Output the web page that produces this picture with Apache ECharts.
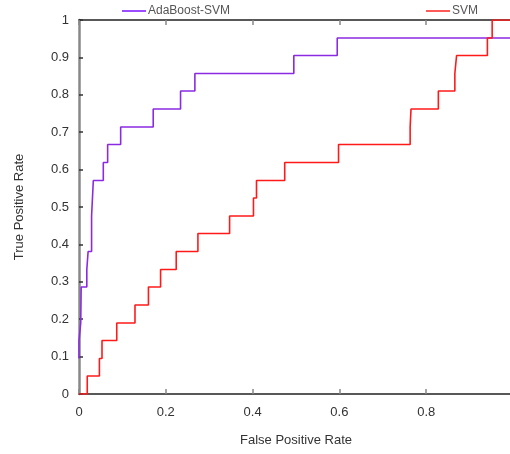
<!DOCTYPE html>
<html>
<head>
<meta charset="utf-8">
<script src="https://cdn.jsdelivr.net/npm/echarts@6/dist/echarts.min.js"></script>
<style>
  html, body { margin: 0; padding: 0; background: #fff; }
  #chart { width: 510px; height: 454px; }
</style>
</head>
<body>
<div id="chart"></div>
<script>
// ROC curve points: false positive rate / true positive rate
var adaFpr = [0, 0, 0.004, 0.005, 0.018, 0.021, 0.029, 0.033, 0.056, 0.066, 0.096, 0.171, 0.234, 0.267, 0.495, 0.595, 1];
var adaTpr = [0.095, 0.143, 0.190, 0.286, 0.333, 0.381, 0.476, 0.571, 0.619, 0.667, 0.714, 0.762, 0.810, 0.857, 0.905, 0.952, 0.952];

var svmFpr = [0, 0.019, 0.047, 0.053, 0.087, 0.129, 0.160, 0.188, 0.224, 0.274, 0.347, 0.402, 0.409, 0.474, 0.598, 0.763, 0.765, 0.828, 0.866, 0.870, 0.941, 0.952, 1];
var svmTpr = [0, 0.048, 0.095, 0.143, 0.190, 0.238, 0.286, 0.333, 0.381, 0.429, 0.476, 0.524, 0.571, 0.619, 0.667, 0.714, 0.762, 0.810, 0.857, 0.905, 0.952, 1, 1];

var seriesNames = ['AdaBoost-SVM', 'SVM'];
var xTickLabels = ['0', '0.2', '0.4', '0.6', '0.8', '1'];
var yTickLabels = ['0', '0.1', '0.2', '0.3', '0.4', '0.5', '0.6', '0.7', '0.8', '0.9', '1'];

function pairs(xs, ys) {
  return xs.map(function (x, i) { return [x, ys[i]]; });
}

var font = 'Liberation Sans, Arial, sans-serif';
var chart = echarts.init(document.getElementById('chart'));

chart.setOption({
  animation: false,
  backgroundColor: '#fff',
  grid: { left: 79, top: 20, right: -3, bottom: 60, containLabel: false, outerBoundsMode: 'none' },
  legend: [
    {
      data: [seriesNames[0]], left: 117, top: 0, icon: 'rect',
      itemWidth: 24, itemHeight: 2, itemGap: 2,
      textStyle: { color: '#555', fontFamily: font, fontSize: 12, padding: [0, 0, 0, -3] }
    },
    {
      data: [seriesNames[1]], left: 421, top: 0, icon: 'rect',
      itemWidth: 24, itemHeight: 2, itemGap: 2,
      textStyle: { color: '#555', fontFamily: font, fontSize: 12, padding: [0, 0, 0, -3] }
    }
  ],
  xAxis: [
    {
      type: 'value', min: 0, max: 1, interval: 0.2, position: 'bottom',
      name: 'False Positive Rate', nameLocation: 'middle', nameGap: 40,
      nameTextStyle: { color: '#333', fontFamily: font, fontSize: 13 },
      axisLine: { lineStyle: { color: '#222', width: 1.5 } },
      axisTick: { inside: true, length: 5, lineStyle: { color: '#888', width: 1.5 } },
      axisLabel: {
        margin: 12, color: '#333', fontFamily: font, fontSize: 13,
        showMaxLabel: true, hideOverlap: false,
        formatter: function (v) { return xTickLabels[Math.round(v / 0.2)]; }
      },
      splitLine: { show: false }
    },
    {
      type: 'value', min: 0, max: 1, interval: 0.2, position: 'top',
      axisLine: { lineStyle: { color: '#222', width: 1.5 } },
      axisTick: { inside: true, length: 5, lineStyle: { color: '#888', width: 1.5 } },
      axisLabel: { show: false },
      splitLine: { show: false }
    }
  ],
  yAxis: {
    type: 'value', min: 0, max: 1, interval: 0.1,
    name: 'True Positive Rate', nameLocation: 'middle', nameGap: 53,
    nameTextStyle: { color: '#333', fontFamily: font, fontSize: 13 },
    axisLine: { lineStyle: { color: '#888', width: 2.5 } },
    axisTick: { inside: true, length: 4, lineStyle: { color: '#333', width: 1.5 } },
    axisLabel: {
      margin: 10, color: '#333', fontFamily: font, fontSize: 13,
      formatter: function (v) { return yTickLabels[Math.round(v * 10)]; }
    },
    splitLine: { show: false }
  },
  series: [
    {
      name: seriesNames[0], type: 'line', step: 'end', showSymbol: false,
      data: pairs(adaFpr, adaTpr),
      itemStyle: { color: '#9b4dff' },
      lineStyle: { color: '#8a2be2', width: 1.6 }
    },
    {
      name: seriesNames[1], type: 'line', step: 'end', showSymbol: false,
      data: pairs(svmFpr, svmTpr),
      itemStyle: { color: '#ff5a5a' },
      lineStyle: { color: '#ff1a1a', width: 1.6 }
    }
  ]
});
</script>
</body>
</html>
